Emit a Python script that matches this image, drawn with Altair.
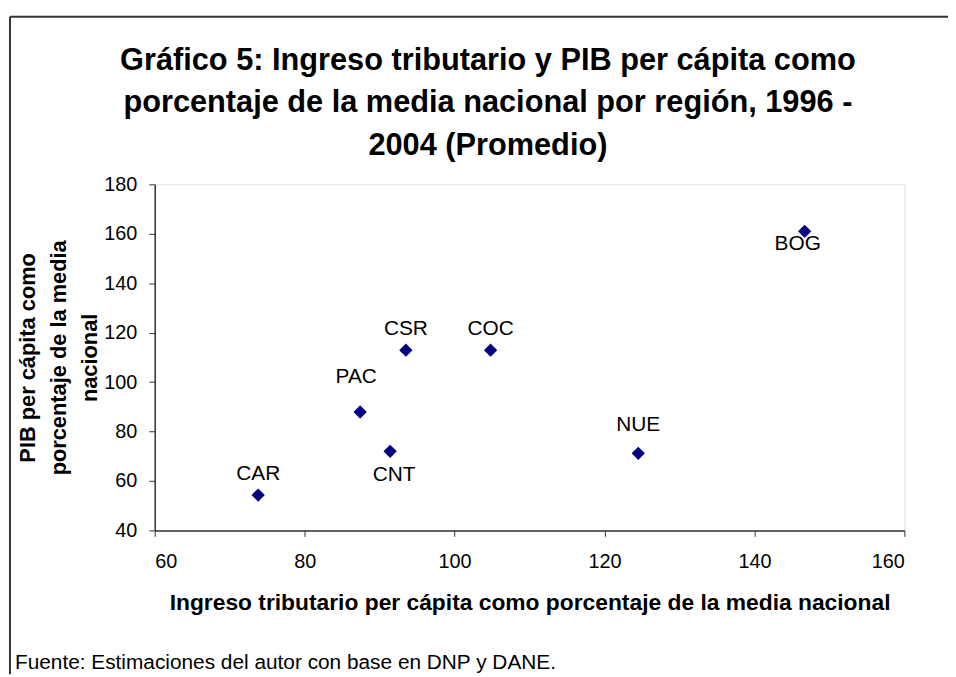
import altair as alt
import pandas as pd

# ---- data ----
regions = ["CAR", "PAC", "CNT", "CSR", "COC", "NUE", "BOG"]
ingreso = [73.8, 87.4, 91.4, 93.5, 104.8, 124.5, 146.7]
pib = [54.3, 87.9, 72.0, 112.9, 112.9, 71.2, 161.0]

x_ticks = [60, 80, 100, 120, 140, 160]
y_ticks = [40, 60, 80, 100, 120, 140, 160, 180]

title_lines = [
    "Gráfico 5: Ingreso tributario y PIB per cápita como",
    "porcentaje de la media nacional por región, 1996 -",
    "2004 (Promedio)",
]
x_title = "Ingreso tributario per cápita como porcentaje de la media nacional"
y_title = ["PIB per cápita como", "porcentaje de la media", "nacional"]
footnote = "Fuente: Estimaciones del autor con base en DNP y DANE."

df = pd.DataFrame({"region": regions, "ingreso": ingreso, "pib": pib})
one = pd.DataFrame({"k": [0]})

FONT = "Liberation Sans"
W, H = 756, 349
PAD = {"left": 148, "top": 175, "right": 44, "bottom": 145}

x_enc = alt.X(
    "ingreso:Q",
    scale=alt.Scale(domain=[60, 160], nice=False, zero=False),
    axis=alt.Axis(
        values=x_ticks, title=x_title, grid=False,
        labelFontSize=20, labelFont=FONT, labelColor="black", labelPadding=15,
        tickSize=6, tickColor="#333", domainColor="#333", domainWidth=1.5,
        titleFont=FONT, titleFontSize=23, titleFontWeight="bold", titleColor="black",
        titleX=W / 2, titleY=80, titleBaseline="alphabetic", titleAlign="center",
    ),
)
y_enc = alt.Y(
    "pib:Q",
    scale=alt.Scale(domain=[40, 180], nice=False, zero=False),
    axis=alt.Axis(
        values=y_ticks, title=y_title, grid=False,
        labelFontSize=20, labelFont=FONT, labelColor="black", labelPadding=12,
        tickSize=6, tickColor="#333", domainColor="#333", domainWidth=1.5,
        titleFont=FONT, titleFontSize=22, titleFontWeight="bold", titleColor="black",
        titleAngle=270, titleX=-121, titleY=H / 2, titleBaseline="alphabetic",
        titleAlign="center", titleLineHeight=31,
    ),
)

base = alt.Chart(df)

points = base.mark_point(shape="diamond", filled=True, size=180, color="#000080", opacity=1).encode(
    x=x_enc, y=y_enc
)


def label_layer(names, dx, dy):
    return base.transform_filter(
        alt.FieldOneOfPredicate(field="region", oneOf=names)
    ).mark_text(
        font=FONT, fontSize=21, color="black", baseline="middle", align="center", dx=dx, dy=dy
    ).encode(x="ingreso:Q", y="pib:Q", text="region:N")


labels = [
    label_layer(["CSR", "COC", "CAR"], 0, -21),
    label_layer(["NUE"], 0, -28),
    label_layer(["PAC"], -4, -35),
    label_layer(["CNT"], 4, 24),
    label_layer(["BOG"], -7, 13),
]

# outer chart border (top and left edges visible in the reference)
border_top = alt.Chart(one).mark_rule(color="#333", strokeWidth=2).encode(
    x=alt.value(-146), x2=alt.value(800), y=alt.value(-169)
)
border_left = alt.Chart(one).mark_rule(color="#333", strokeWidth=2).encode(
    x=alt.value(-146), y=alt.value(-169), y2=alt.value(494)
)

title_layers = [
    alt.Chart(one).mark_text(
        font=FONT, fontSize=31, fontWeight="bold", color="black",
        align="center", baseline="alphabetic",
    ).encode(x=alt.value(336), y=alt.value(-115 + i * 42.5), text=alt.value(line))
    for i, line in enumerate(title_lines)
]

foot = alt.Chart(one).mark_text(
    font=FONT, fontSize=21, color="black", align="left", baseline="alphabetic"
).encode(x=alt.value(-141), y=alt.value(489), text=alt.value(footnote))

chart = alt.layer(points, *labels, border_top, border_left, *title_layers, foot).properties(
    width=W,
    height=H,
    autosize=alt.AutoSizeParams(type="none"),
    padding=PAD,
).configure_view(
    stroke="#8c8c8c", strokeWidth=1.5
).configure(background="white")

chart.save("out.html", embed_options={"renderer": "svg", "actions": False})
